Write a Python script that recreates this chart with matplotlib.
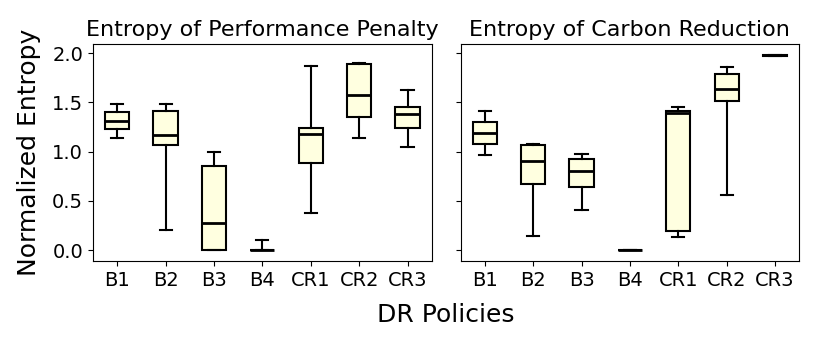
import matplotlib
matplotlib.use("Agg")
import matplotlib.pyplot as plt

policies = ["B1", "B2", "B3", "B4", "CR1", "CR2", "CR3"]

# Entropy of Performance Penalty (box stats)
perf_low = [1.14, 0.20, 0.00, 0.00, 0.376, 1.142, 1.051]
perf_q1 = [1.23, 1.065, 0.00, 0.00, 0.885, 1.35, 1.244]
perf_med = [1.315, 1.17, 0.275, 0.00, 1.176, 1.573, 1.383]
perf_q3 = [1.40, 1.41, 0.858, 0.00, 1.24, 1.888, 1.454]
perf_high = [1.48, 1.485, 1.00, 0.098, 1.875, 1.905, 1.627]

# Entropy of Carbon Reduction
carb_low = [0.97, 0.146, 0.407, -0.005, 0.129, 0.563, 1.975]
carb_q1 = [1.075, 0.668, 0.64, -0.005, 0.19, 1.515, 1.975]
carb_med = [1.19, 0.908, 0.807, -0.005, 1.39, 1.64, 1.98]
carb_q3 = [1.30, 1.064, 0.92, -0.005, 1.417, 1.793, 1.985]
carb_high = [1.414, 1.075, 0.98, -0.005, 1.454, 1.86, 1.985]


def make_stats(low, q1, med, q3, high):
    stats = []
    for i in range(len(policies)):
        stats.append({"whislo": low[i], "q1": q1[i], "med": med[i],
                      "q3": q3[i], "whishi": high[i], "fliers": []})
    return stats


fig, axes = plt.subplots(1, 2, figsize=(8.3, 3.43), dpi=100, sharey=True)
fig.subplots_adjust(left=0.112, right=0.963, top=0.872, bottom=0.239, wspace=0.085)

paneles = [
    (axes[0], make_stats(perf_low, perf_q1, perf_med, perf_q3, perf_high),
     "Entropy of Performance Penalty"),
    (axes[1], make_stats(carb_low, carb_q1, carb_med, carb_q3, carb_high),
     "Entropy of Carbon Reduction"),
]

for ax, st, titulo in paneles:
    ax.bxp(st, positions=range(1, len(policies) + 1), widths=0.5,
           patch_artist=True, showfliers=False,
           boxprops=dict(facecolor="lightyellow", edgecolor="black", linewidth=1.5),
           medianprops=dict(color="black", linewidth=2),
           whiskerprops=dict(color="black", linewidth=1.5),
           capprops=dict(color="black", linewidth=1.5))
    ax.set_xticks(range(1, len(policies) + 1))
    ax.set_xticklabels(policies, fontsize=14)
    ax.tick_params(axis="y", labelsize=14)
    ax.set_title(titulo, fontsize=16)
    ax.set_xlim(0.5, 7.5)

axes[0].set_ylim(-0.112, 2.095)
axes[0].set_yticks([0.0, 0.5, 1.0, 1.5, 2.0])
axes[0].set_ylabel("Normalized Entropy", fontsize=18, labelpad=8)
fig.text(0.537, 0.082, "DR Policies", ha="center", va="center", fontsize=18)

plt.savefig("out.png")
